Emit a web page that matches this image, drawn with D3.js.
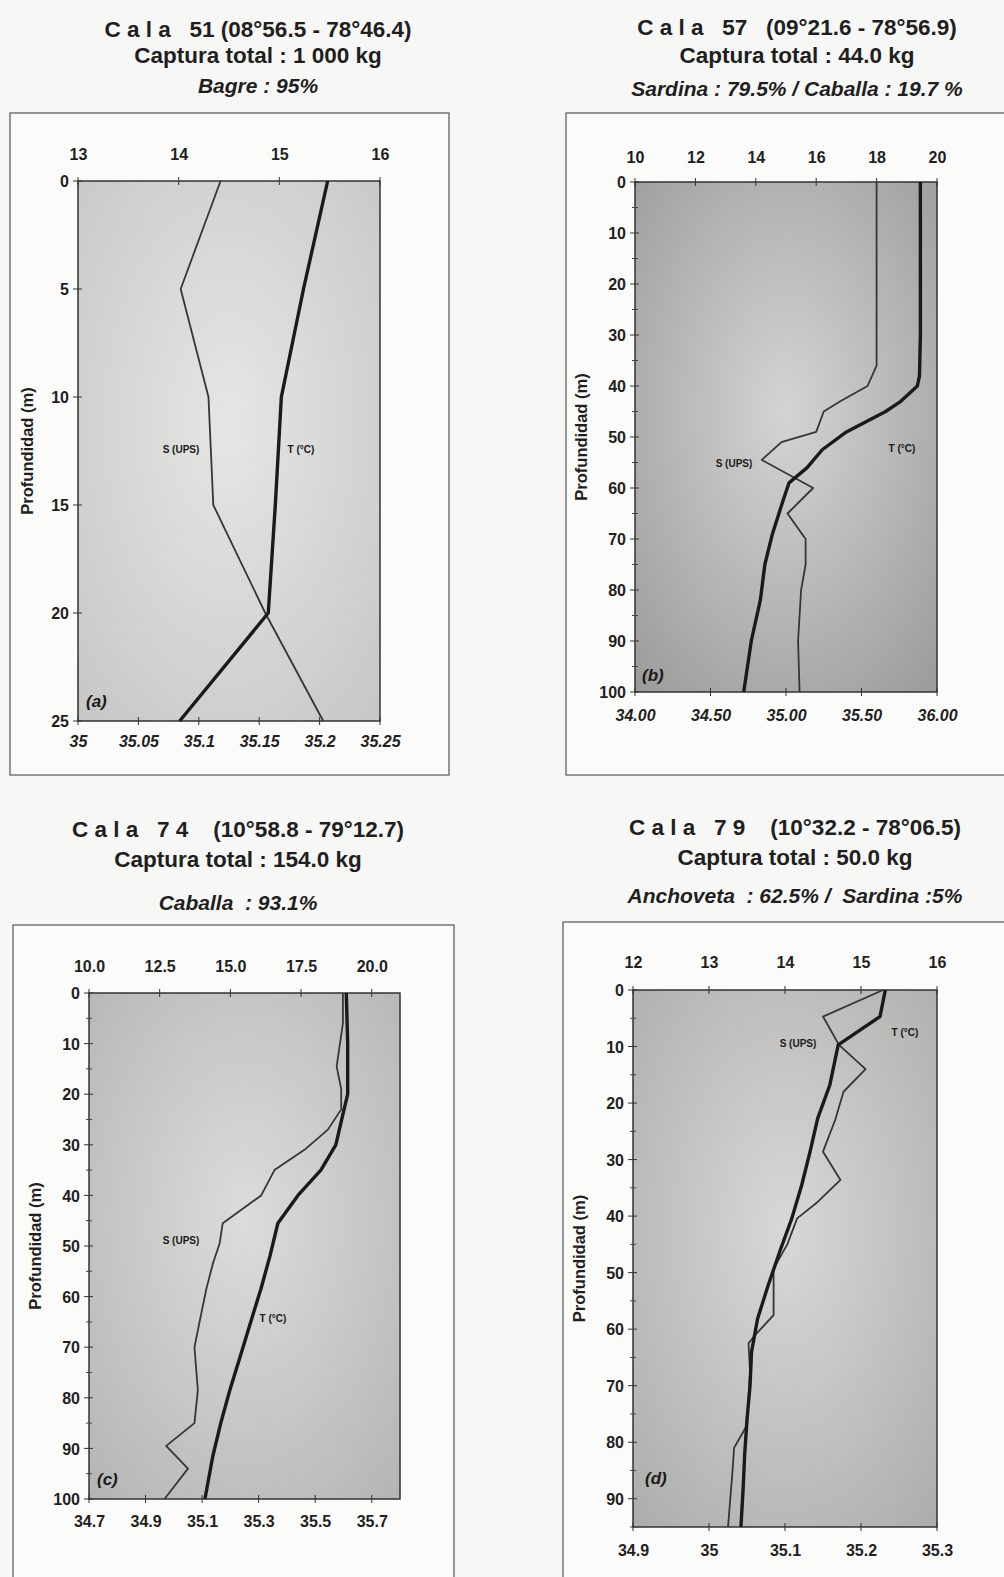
<!DOCTYPE html>
<html>
<head>
<meta charset="utf-8">
<script src="https://cdn.jsdelivr.net/npm/d3@7"></script>
<style>
body { margin: 0; background: #f7f7f5; }
svg { display: block; font-family: "Liberation Sans", Arial, sans-serif; }
</style>
</head>
<body>
<div id="chart"></div>
<script>
// ---- datos ----
// (a) Cala 51
const titlesA = ['C a l a   51 (08°56.5 - 78°46.4)', 'Captura total : 1 000 kg', 'Bagre : 95%']
const depthA_T = [0, 5, 10, 15, 20, 25]
const tempA = [15.48, 15.24, 15.02, 14.96, 14.89, 14.01]
const depthA_S = [0, 5, 10, 15, 20, 25]
const salA = [35.118, 35.085, 35.108, 35.112, 35.155, 35.203]
const topTicksA = [13, 14, 15, 16]
const botTicksA = [35, 35.05, 35.1, 35.15, 35.2, 35.25]
const botLabelsA = ['35', '35.05', '35.1', '35.15', '35.2', '35.25']
const yTicksA = [0, 5, 10, 15, 20, 25]

// (b) Cala 57
const titlesB = ['C a l a   57   (09°21.6 - 78°56.9)', 'Captura total : 44.0 kg', 'Sardina : 79.5% / Caballa : 19.7 %']
const depthB_T = [0, 10, 20, 30, 38, 40, 43, 45, 49, 52.5, 56, 59, 62.5, 69, 75, 82, 90, 100]
const tempB = [19.45, 19.45, 19.45, 19.45, 19.42, 19.35, 18.8, 18.3, 17.0, 16.2, 15.7, 15.1, 14.9, 14.55, 14.3, 14.15, 13.85, 13.6]
const depthB_S = [0, 10, 20, 30, 36, 40, 43, 45, 49, 51, 54.5, 60, 65, 70, 75, 80, 90, 100]
const salB = [35.6, 35.6, 35.6, 35.6, 35.6, 35.54, 35.36, 35.25, 35.2, 34.97, 34.84, 35.18, 35.01, 35.13, 35.13, 35.1, 35.08, 35.09]
const topTicksB = [10, 12, 14, 16, 18, 20]
const botTicksB = [34, 34.5, 35, 35.5, 36]
const botLabelsB = ['34.00', '34.50', '35.00', '35.50', '36.00']
const yTicksB = [0, 10, 20, 30, 40, 50, 60, 70, 80, 90, 100]

// (c) Cala 74
const titlesC = ['C a l a   7 4    (10°58.8 - 79°12.7)', 'Captura total : 154.0 kg', 'Caballa  : 93.1%']
const depthC_T = [0, 10, 20, 24, 30, 35, 40, 45.5, 52, 58.5, 65, 72, 78.5, 85, 91.5, 100]
const tempC = [19.1, 19.15, 19.15, 18.98, 18.73, 18.2, 17.39, 16.68, 16.4, 16.08, 15.72, 15.34, 14.98, 14.66, 14.38, 14.1]
const depthC_S = [0, 6, 14.5, 19, 23, 27, 31, 35, 40, 45.5, 49.5, 53.5, 58.5, 65, 70, 78.5, 85, 89.5, 94, 100]
const salC = [35.598, 35.598, 35.576, 35.592, 35.592, 35.545, 35.462, 35.356, 35.309, 35.173, 35.162, 35.138, 35.115, 35.091, 35.073, 35.085, 35.073, 34.973, 35.05, 34.967]
const topTicksC = [10, 12.5, 15, 17.5, 20]
const topLabelsC = ['10.0', '12.5', '15.0', '17.5', '20.0']
const botTicksC = [34.7, 34.9, 35.1, 35.3, 35.5, 35.7]
const yTicksC = [0, 10, 20, 30, 40, 50, 60, 70, 80, 90, 100]

// (d) Cala 79
const titlesD = ['C a l a   7 9    (10°32.2 - 78°06.5)', 'Captura total : 50.0 kg', 'Anchoveta  : 62.5% /  Sardina :5%']
const depthD_T = [0, 4.7, 9.7, 16.8, 22.7, 28.6, 34.5, 40.4, 46.3, 52.2, 58.1, 64, 70, 76, 82, 88, 95]
const tempD = [15.32, 15.25, 14.7, 14.59, 14.43, 14.33, 14.22, 14.09, 13.93, 13.78, 13.64, 13.56, 13.54, 13.5, 13.47, 13.45, 13.42]
const depthD_S = [0, 4.7, 9.7, 14, 18, 23, 28.6, 33.6, 37.5, 40.4, 45, 49.3, 57.5, 61, 62.5, 67.5, 77, 81, 85, 95]
const salD = [35.229, 35.15, 35.171, 35.206, 35.177, 35.166, 35.15, 35.173, 35.143, 35.116, 35.103, 35.085, 35.085, 35.061, 35.052, 35.054, 35.05, 35.033, 35.031, 35.025]
const topTicksD = [12, 13, 14, 15, 16]
const botTicksD = [34.9, 35, 35.1, 35.2, 35.3]
const botLabelsD = ['34.9', '35', '35.1', '35.2', '35.3']
const yTicksD = [0, 10, 20, 30, 40, 50, 60, 70, 80, 90]

const W = 1004, H = 1577

const svg = d3.select('#chart').append('svg')
  .attr('width', W)
  .attr('height', H)

const defs = svg.append('defs')

// paneles: posicion y escalas
const panels = [
  { key: 'a', frame: [10, 113, 449, 775], plot: [78, 181, 380, 721], cx: 258, ty: [37, 63, 93],
    titles: titlesA, top: [13, 16], bot: [35, 35.25], yDom: [0, 25],
    topTicks: topTicksA, topLabels: topTicksA.map(String), botTicks: botTicksA, botLabels: botLabelsA, botItalic: true,
    yTicks: yTicksA, yMinor: [], topBase: 160, botBase: 748,
    dT: depthA_T, T: tempA, dS: depthA_S, S: salA,
    sLab: [181, 453], tLab: [301, 453], pLab: [86, 707], yTitleX: 33,
    bg: ['#e6e6e4', '#c6c6c4'] },
  { key: 'b', frame: [566, 113, 1012, 775], plot: [635, 182, 937, 692], cx: 797, ty: [35, 63, 96],
    titles: titlesB, top: [10, 20], bot: [34, 36], yDom: [0, 100],
    topTicks: topTicksB, topLabels: topTicksB.map(String), botTicks: botTicksB, botLabels: botLabelsB, botItalic: true,
    yTicks: yTicksB, yMinor: d3.range(5, 100, 10), topBase: 163, botBase: 722,
    dT: depthB_T, T: tempB, dS: depthB_S, S: salB,
    sLab: [734, 467], tLab: [902, 452], pLab: [642, 681], yTitleX: 587,
    bg: ['#d4d4d2', '#9a9a98'] },
  { key: 'c', frame: [13, 925, 454, 1600], plot: [89, 993, 400, 1499], cx: 238, ty: [837, 867, 910],
    titles: titlesC, top: [10, 21], bot: [34.7, 35.8], yDom: [0, 100],
    topTicks: topTicksC, topLabels: topLabelsC, botTicks: botTicksC, botLabels: botTicksC.map(String), botItalic: false,
    yTicks: yTicksC, yMinor: d3.range(5, 100, 10), topBase: 972, botBase: 1528,
    dT: depthC_T, T: tempC, dS: depthC_S, S: salC,
    sLab: [181, 1244], tLab: [273, 1322], pLab: [97, 1485], yTitleX: 41,
    bg: ['#dcdcda', '#b4b4b2'] },
  { key: 'd', frame: [563, 922, 1012, 1600], plot: [633, 990, 937, 1527], cx: 795, ty: [835, 865, 903],
    titles: titlesD, top: [12, 16], bot: [34.9, 35.3], yDom: [0, 95],
    topTicks: topTicksD, topLabels: topTicksD.map(String), botTicks: botTicksD, botLabels: botLabelsD, botItalic: false,
    yTicks: yTicksD, yMinor: d3.range(5, 96, 10), topBase: 968, botBase: 1557,
    dT: depthD_T, T: tempD, dS: depthD_S, S: salD,
    sLab: [798, 1047], tLab: [905, 1036], pLab: [645, 1484], yTitleX: 585,
    bg: ['#d8d8d6', '#acacaa'] }
]

panels.forEach(drawPanel)

function drawPanel(p) {
  const [x0, y0, x1, y1] = p.plot
  const g = svg.append('g').attr('class', 'panel-' + p.key)

  // marco exterior
  g.append('rect')
    .attr('x', p.frame[0]).attr('y', p.frame[1])
    .attr('width', p.frame[2] - p.frame[0]).attr('height', p.frame[3] - p.frame[1])
    .attr('fill', '#fbfbf9')
    .attr('stroke', '#555').attr('stroke-width', 1.2)

  // titulos
  p.titles.forEach((t, i) => {
    g.append('text')
      .attr('x', p.cx).attr('y', p.ty[i])
      .attr('text-anchor', 'middle')
      .style('white-space', 'pre')
      .attr('font-size', i == 2 ? 21 : 22.5)
      .attr('font-weight', 'bold')
      .attr('font-style', i == 2 ? 'italic' : 'normal')
      .attr('fill', '#1f1f1f')
      .text(t)
  })

  // fondo gris del area de grafico
  const grad = defs.append('radialGradient')
    .attr('id', 'bg-' + p.key)
    .attr('cx', '50%').attr('cy', '45%').attr('r', '75%')
  grad.append('stop').attr('offset', '0%').attr('stop-color', p.bg[0])
  grad.append('stop').attr('offset', '100%').attr('stop-color', p.bg[1])

  g.append('rect')
    .attr('x', x0).attr('y', y0)
    .attr('width', x1 - x0).attr('height', y1 - y0)
    .attr('fill', `url(#bg-${p.key})`)
    .attr('stroke', '#333').attr('stroke-width', 1.5)

  // escalas
  const xT = d3.scaleLinear().domain(p.top).range([x0, x1])
  const xS = d3.scaleLinear().domain(p.bot).range([x0, x1])
  const y = d3.scaleLinear().domain(p.yDom).range([y0, y1])

  // ejes (solo etiquetas, las marcas van aparte para que crucen la linea)
  const topAxis = d3.axisTop(xT).tickValues(p.topTicks)
    .tickFormat((d, i) => p.topLabels[i]).tickSize(0).tickPadding(0)
  const gTop = g.append('g').attr('transform', `translate(0,${p.topBase})`).call(topAxis)

  const botAxis = d3.axisBottom(xS).tickValues(p.botTicks)
    .tickFormat((d, i) => p.botLabels[i]).tickSize(0).tickPadding(0)
  const gBot = g.append('g').attr('transform', `translate(0,${p.botBase - 12})`).call(botAxis)

  const leftAxis = d3.axisLeft(y).tickValues(p.yTicks).tickSize(0).tickPadding(0)
  const gLeft = g.append('g').attr('transform', `translate(${x0 - 9},0)`).call(leftAxis)

  ;[gTop, gBot, gLeft].forEach(a => {
    a.select('.domain').remove()
    a.selectAll('text')
      .attr('font-family', '"Liberation Sans", Arial, sans-serif')
      .attr('font-size', 16)
      .attr('font-weight', 'bold')
      .attr('fill', '#1f1f1f')
  })
  gLeft.selectAll('text').attr('dy', '0.36em')
  gTop.selectAll('text').attr('dy', 0)
  gBot.selectAll('text').attr('dy', '0.71em')
  if (p.botItalic) gBot.selectAll('text').attr('font-style', 'italic')

  // marcas cruzadas
  g.selectAll('.tk-top').data(p.topTicks).join('line')
    .attr('x1', d => xT(d)).attr('x2', d => xT(d))
    .attr('y1', y0 - 4).attr('y2', y0 + 4)
    .attr('stroke', '#333').attr('stroke-width', 1)
  g.selectAll('.tk-bot').data(p.botTicks).join('line')
    .attr('x1', d => xS(d)).attr('x2', d => xS(d))
    .attr('y1', y1 - 4).attr('y2', y1 + 4)
    .attr('stroke', '#333').attr('stroke-width', 1)
  g.selectAll('.tk-left').data(p.yTicks).join('line')
    .attr('x1', x0 - 5).attr('x2', x0 + 4)
    .attr('y1', d => y(d)).attr('y2', d => y(d))
    .attr('stroke', '#333').attr('stroke-width', 1)
  g.selectAll('.tk-minor').data(p.yMinor).join('line')
    .attr('x1', x0 - 3).attr('x2', x0 + 3)
    .attr('y1', d => y(d)).attr('y2', d => y(d))
    .attr('stroke', '#444').attr('stroke-width', 1)

  // titulo eje Y
  g.append('text')
    .attr('transform', `translate(${p.yTitleX},${(y0 + y1) / 2}) rotate(-90)`)
    .attr('text-anchor', 'middle')
    .attr('font-size', 16.5).attr('font-weight', 'bold')
    .attr('fill', '#1f1f1f')
    .text('Profundidad (m)')

  // perfiles
  const lineT = d3.line().x(d => xT(d[1])).y(d => y(d[0]))
  const lineS = d3.line().x(d => xS(d[1])).y(d => y(d[0]))

  g.append('path')
    .datum(d3.zip(p.dS, p.S))
    .attr('fill', 'none')
    .attr('stroke', '#363636')
    .attr('stroke-width', 1.8)
    .attr('stroke-linejoin', 'round')
    .attr('d', lineS)

  g.append('path')
    .datum(d3.zip(p.dT, p.T))
    .attr('fill', 'none')
    .attr('stroke', '#1a1a1a')
    .attr('stroke-width', 3.4)
    .attr('stroke-linejoin', 'round')
    .attr('d', lineT)

  // etiquetas de series
  g.append('text')
    .attr('x', p.sLab[0]).attr('y', p.sLab[1])
    .attr('text-anchor', 'middle')
    .attr('font-size', 10).attr('font-weight', 'bold').attr('fill', '#1a1a1a')
    .text('S (UPS)')
  g.append('text')
    .attr('x', p.tLab[0]).attr('y', p.tLab[1])
    .attr('text-anchor', 'middle')
    .attr('font-size', 10).attr('font-weight', 'bold').attr('fill', '#1a1a1a')
    .text('T (°C)')

  // letra del panel
  g.append('text')
    .attr('x', p.pLab[0]).attr('y', p.pLab[1])
    .attr('font-size', 17).attr('font-weight', 'bold').attr('font-style', 'italic')
    .attr('fill', '#1a1a1a')
    .text(`(${p.key})`)
}
</script>
</body>
</html>
